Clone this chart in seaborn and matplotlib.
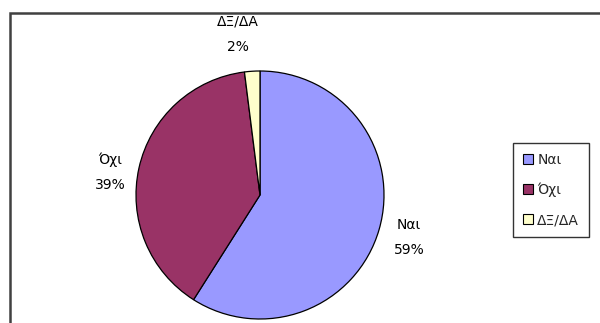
import matplotlib
matplotlib.use("Agg")
import matplotlib.pyplot as plt
from matplotlib.patches import Rectangle
import seaborn as sns

categories = ["Ναι", "Όχι", "ΔΞ/ΔΑ"]
shares = [59, 39, 2]
colors = ["#9999FF", "#993366", "#FFFFCC"]

sns.set_theme(style="white")
plt.rcParams["font.family"] = ["DejaVu Sans"]

fig = plt.figure(figsize=(6, 3.23), dpi=100)
fig.patch.set_facecolor("white")

# outer chart frame (only top and left edges fall inside the picture)
fig.patches.append(Rectangle((10 / 600, -0.1), 1.1, 1 - 13 / 323 + 0.1,
                             transform=fig.transFigure, fill=False,
                             edgecolor="#404040", linewidth=1.8))

ax = fig.add_axes([136 / 600, 4 / 323, 248 / 600, 248 / 323])
labels = [f"{c}\n{v}%" for c, v in zip(categories, shares)]
wedges, texts = ax.pie(shares, labels=labels, colors=colors, startangle=90,
                       counterclock=False, labeldistance=1.24,
                       wedgeprops={"edgecolor": "black", "linewidth": 0.9},
                       textprops={"fontsize": 10, "color": "black",
                                  "linespacing": 2.0})
for t in texts:
    t.set_horizontalalignment("center")
    t.set_verticalalignment("center")
# Excel nudges the labels a little away from the geometric spot
x, y = texts[0].get_position()
texts[0].set_position((x + 0.01, y))
x, y = texts[1].get_position()
texts[1].set_position((x, y - 0.09))
x, y = texts[2].get_position()
texts[2].set_position((x - 0.1, y + 0.06))
ax.set_xlim(-1, 1)
ax.set_ylim(-1, 1)
ax.set_aspect("auto")

leg = fig.legend(wedges, categories, loc="upper left",
                 bbox_to_anchor=(513 / 600, 1 - 143 / 323),
                 frameon=True, fancybox=False, shadow=False,
                 fontsize=10, handlelength=0.75, handleheight=0.75,
                 handletextpad=0.3, labelspacing=1.15, borderpad=0.7,
                 borderaxespad=0)
leg.get_frame().set_edgecolor("black")
leg.get_frame().set_linewidth(1.0)
for h in leg.legend_handles:
    h.set_edgecolor("black")
    h.set_linewidth(0.8)

fig.savefig("out.png", dpi=100)
